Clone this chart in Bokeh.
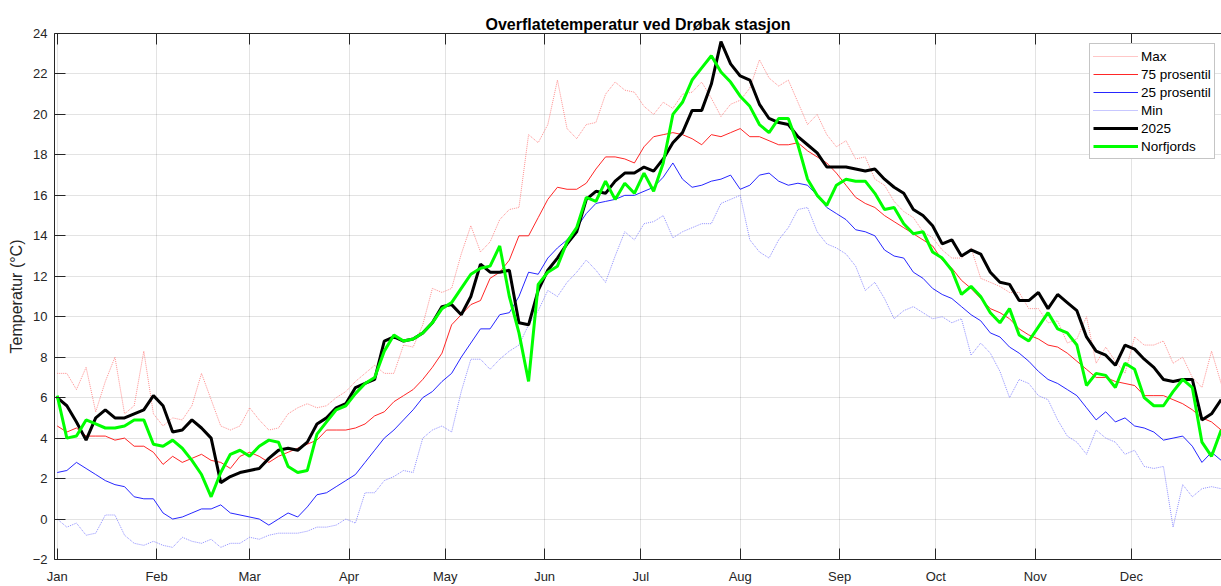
from bokeh.plotting import figure
from bokeh.models import FixedTicker, LinearAxis, Legend, LegendItem, Range1d
from bokeh.embed import file_html
from bokeh.resources import INLINE

# Day of year (leap-year axis, Jan 1 = 0), sampled every 3 days
day = list(range(0, 364, 3))

month_ticks = [0, 31, 60, 91, 121, 152, 182, 213, 244, 274, 305, 335]
month_labels = ["Jan", "Feb", "Mar", "Apr", "May", "Jun", "Jul", "Aug", "Sep", "Oct", "Nov", "Dec"]
y_ticks = [-2, 0, 2, 4, 6, 8, 10, 12, 14, 16, 18, 20, 22, 24]

t_max = [7.2, 7.2, 6.4, 7.5, 5.3, 6.8, 8.0, 5.2, 5.6, 8.3, 5.2, 4.6, 5.0, 4.9, 5.6, 7.2,
         5.9, 4.6, 4.4, 4.6, 5.5, 4.9, 4.4, 4.5, 5.2, 5.5, 5.7, 5.5, 5.6, 6.0, 6.3, 6.8,
         7.2, 7.6, 7.2, 7.2, 8.6, 8.5, 9.6, 11.4, 11.2, 11.4, 13.1, 14.5, 13.2, 13.7, 14.8, 15.3,
         15.4, 19.0, 18.6, 19.5, 21.7, 19.3, 18.8, 19.5, 19.6, 21.0, 21.6, 21.2, 21.1, 20.4, 20.0, 20.6,
         20.3, 21.0, 21.1, 21.6, 20.8, 19.9, 20.5, 20.7, 21.3, 22.7, 21.8, 21.4, 21.7, 20.6, 19.5, 20.0,
         19.0, 18.4, 18.7, 17.8, 17.9, 16.8, 16.5, 15.7, 15.2, 14.9, 14.2, 13.9, 13.3, 12.9, 12.9, 13.4,
         11.9, 11.7, 11.5, 11.2, 11.2, 10.4, 10.4, 9.7, 9.8, 8.7, 8.9, 10.0, 7.7, 8.5, 7.8, 7.2,
         9.0, 8.6, 8.6, 8.8, 7.7, 8.0, 7.0, 6.5, 8.3, 6.7]

t_p75 = [4.6, 4.3, 4.5, 4.1, 4.1, 4.1, 3.9, 4.0, 3.6, 3.6, 3.3, 2.7, 3.1, 2.8, 3.0, 3.2,
         2.9, 2.8, 2.5, 3.1, 3.3, 3.1, 2.8, 3.1, 3.3, 3.5, 3.7, 3.9, 4.4, 4.4, 4.4, 4.5,
         4.7, 5.1, 5.3, 5.8, 6.1, 6.4, 6.9, 7.5, 8.2, 9.6, 10.1, 10.6, 10.8, 11.9, 12.2, 12.8,
         14.0, 14.0, 14.9, 15.8, 16.4, 16.3, 16.3, 16.6, 17.3, 17.9, 17.9, 17.8, 17.6, 18.4, 18.9, 19.0,
         19.1, 19.0, 18.8, 18.5, 19.0, 18.9, 19.1, 19.3, 18.9, 18.9, 18.7, 18.5, 18.5, 18.6, 18.2, 17.9,
         17.6, 17.1, 16.5, 15.9, 15.6, 15.4, 15.0, 14.7, 14.4, 14.1, 13.8, 13.5, 12.8, 12.4, 11.8, 11.4,
         10.9, 10.4, 10.2, 9.9, 9.4, 9.1, 8.9, 8.6, 8.5, 8.2, 7.8, 7.4, 7.0, 7.0, 6.8, 6.7,
         6.6, 6.1, 6.1, 6.1, 5.9, 5.7, 5.4, 5.0, 4.8, 4.4]

t_p25 = [2.3, 2.4, 2.8, 2.5, 2.2, 1.9, 1.7, 1.6, 1.1, 1.0, 1.0, 0.3, 0.0, 0.1, 0.3, 0.5,
         0.5, 0.7, 0.3, 0.2, 0.1, 0.0, -0.3, 0.0, 0.3, 0.1, 0.6, 1.2, 1.3, 1.6, 1.9, 2.2,
         2.8, 3.4, 4.0, 4.4, 4.9, 5.4, 6.0, 6.3, 6.8, 7.2, 8.0, 8.7, 9.4, 9.4, 10.1, 10.2,
         11.0, 12.2, 12.1, 12.9, 13.4, 13.8, 14.4, 15.1, 15.6, 15.7, 15.8, 16.0, 16.0, 16.2, 16.4, 16.9,
         17.6, 16.8, 16.4, 16.5, 16.7, 16.8, 17.0, 16.3, 16.5, 17.0, 17.1, 16.7, 16.5, 16.6, 16.5, 16.0,
         15.4, 15.1, 14.8, 14.3, 14.2, 14.0, 13.3, 13.0, 12.9, 12.2, 11.9, 11.4, 11.1, 10.9, 10.5, 10.1,
         9.8, 9.2, 9.0, 8.5, 8.2, 7.8, 7.3, 6.9, 6.7, 6.4, 6.1, 5.5, 4.9, 5.3, 4.8, 5.0,
         4.6, 4.5, 4.3, 3.9, 4.0, 4.1, 3.6, 2.8, 3.3, 2.9]

t_min = [0.0, -0.4, -0.2, -0.8, -0.7, 0.2, 0.2, -0.8, -1.2, -1.3, -1.1, -1.3, -1.4, -0.9, -1.1, -1.2,
         -1.0, -1.4, -1.2, -1.2, -0.9, -1.0, -0.8, -0.7, -0.7, -0.7, -0.6, -0.4, -0.4, -0.3, 0.0, -0.2,
         1.3, 1.3, 1.9, 2.1, 2.4, 2.3, 4.0, 4.4, 4.6, 4.3, 6.3, 7.9, 7.9, 7.4, 7.9, 8.3,
         8.6, 9.6, 10.3, 11.3, 11.0, 11.7, 12.2, 12.8, 12.3, 11.7, 13.0, 14.2, 13.8, 14.6, 14.7, 15.0,
         13.9, 14.2, 14.4, 14.6, 14.6, 15.6, 15.8, 16.0, 13.8, 13.2, 12.9, 13.8, 14.4, 15.3, 15.4, 14.2,
         13.6, 13.4, 13.1, 12.5, 11.3, 11.7, 10.9, 9.9, 10.3, 10.5, 10.2, 9.9, 10.0, 9.7, 9.9, 8.1,
         8.7, 8.2, 7.3, 6.0, 6.9, 6.7, 6.1, 5.9, 4.9, 4.1, 3.8, 3.2, 4.4, 4.0, 3.8, 3.2,
         3.4, 2.6, 2.5, 2.6, -0.4, 1.7, 1.1, 1.5, 1.6, 1.5]

t_2025 = [6.0, 5.6, 4.8, 3.9, 5.0, 5.4, 5.0, 5.0, 5.2, 5.4, 6.1, 5.6, 4.3, 4.4, 4.9, 4.5,
          4.0, 1.8, 2.1, 2.3, 2.4, 2.5, 3.0, 3.4, 3.5, 3.4, 3.8, 4.7, 5.0, 5.5, 5.7, 6.5,
          6.7, 6.9, 8.8, 9.0, 8.8, 8.9, 9.2, 9.7, 10.5, 10.6, 10.1, 11.0, 12.6, 12.2, 12.2, 12.3,
          9.7, 9.6, 11.3, 12.3, 12.9, 13.6, 14.2, 15.8, 16.2, 16.1, 16.7, 17.1, 17.1, 17.4, 17.2, 17.8,
          18.6, 19.1, 20.2, 20.2, 21.5, 23.6, 22.5, 21.9, 21.7, 20.5, 19.8, 19.6, 19.5, 18.9, 18.5, 18.1,
          17.4, 17.4, 17.4, 17.3, 17.2, 17.3, 16.8, 16.4, 16.1, 15.3, 15.0, 14.5, 13.6, 13.8, 13.0, 13.3,
          13.1, 12.2, 11.7, 11.6, 10.8, 10.8, 11.2, 10.4, 11.1, 10.7, 10.3, 9.0, 8.3, 8.1, 7.6, 8.6,
          8.4, 7.9, 7.5, 6.9, 6.8, 6.9, 6.9, 4.9, 5.2, 5.9]

t_norfjords = [6.1, 4.0, 4.1, 4.9, 4.7, 4.5, 4.5, 4.6, 4.9, 4.9, 3.7, 3.6, 3.9, 3.5, 2.9, 2.2,
               1.1, 2.3, 3.2, 3.4, 3.1, 3.6, 3.9, 3.8, 2.6, 2.3, 2.4, 4.2, 4.8, 5.4, 5.6, 6.2,
               6.7, 7.0, 8.3, 9.1, 8.8, 8.9, 9.2, 9.7, 10.4, 10.7, 11.4, 12.1, 12.4, 12.5, 13.5, 11.0,
               9.2, 6.8, 11.6, 12.2, 12.5, 13.7, 14.4, 15.9, 15.7, 16.7, 15.8, 16.6, 16.1, 17.1, 16.2, 17.6,
               20.0, 20.6, 21.7, 22.3, 22.9, 22.1, 21.6, 20.9, 20.4, 19.5, 19.1, 19.8, 19.8, 18.5, 16.8, 16.0,
               15.5, 16.5, 16.8, 16.7, 16.7, 16.1, 15.3, 15.4, 14.6, 14.1, 14.2, 13.2, 12.9, 12.3, 11.1, 11.5,
               11.0, 10.2, 9.7, 10.4, 9.1, 8.8, 9.5, 10.2, 9.4, 9.2, 8.6, 6.6, 7.2, 7.1, 6.5, 7.7,
               7.4, 6.0, 5.6, 5.6, 6.3, 6.9, 6.5, 3.8, 3.1, 4.4]

FONT = "Liberation Sans"
TXT = "#262626"

p = figure(width=1221, height=586, output_backend="svg", toolbar_location=None,
           x_range=Range1d(-0.85, 363.1), y_range=Range1d(-2, 24),
           min_border_left=54, min_border_right=0, min_border_top=33, min_border_bottom=26,
           background_fill_color="white", border_fill_color="white")

p.title.text = "Overflatetemperatur ved Drøbak stasjon"
p.title.align = "center"
p.title.text_font = FONT
p.title.text_font_size = "16px"
p.title.text_font_style = "bold"
p.title.text_color = "black"
p.title.standoff = 1
p.title.offset = 0

p.outline_line_color = None

# x axis
xa = p.xaxis[0]
xa.ticker = FixedTicker(ticks=month_ticks)
xa.major_label_overrides = {t: l for t, l in zip(month_ticks, month_labels)}
ya = p.yaxis[0]
ya.ticker = FixedTicker(ticks=y_ticks)
ya.axis_label = "Temperatur (°C)"
ya.axis_label_text_font = FONT
ya.axis_label_text_font_size = "16px"
ya.axis_label_text_font_style = "normal"
ya.axis_label_text_color = TXT
ya.axis_label_standoff = 5
for ax in (xa, ya):
    ax.major_label_text_font = FONT
    ax.major_label_text_font_size = "13px"
    ax.major_label_text_color = TXT
    ax.axis_line_color = TXT
    ax.major_tick_line_color = TXT
    ax.major_tick_in = 11
    ax.major_tick_out = 0
    ax.minor_tick_line_color = None
xa.major_label_standoff = 9
ya.major_label_standoff = 7

top = LinearAxis(ticker=FixedTicker(ticks=month_ticks), major_label_text_font_size="0px",
                 major_label_standoff=0, major_tick_in=11, major_tick_out=0,
                 minor_tick_line_color=None, axis_line_color=TXT, major_tick_line_color=TXT)
top.major_label_overrides = {t: "" for t in month_ticks}
p.add_layout(top, "above")

p.xgrid.ticker = FixedTicker(ticks=month_ticks)
p.ygrid.ticker = FixedTicker(ticks=y_ticks)
for g in (p.xgrid[0], p.ygrid[0]):
    g.grid_line_color = "#262626"
    g.grid_line_alpha = 0.13
    g.grid_line_width = 1

r_max = p.line(day, t_max, line_color="#ff6a6a", line_alpha=0.75, line_width=1, line_dash="1 1")
r_75 = p.line(day, t_p75, line_color="#ff0000", line_alpha=0.85, line_width=1)
r_25 = p.line(day, t_p25, line_color="#0000ff", line_alpha=0.85, line_width=1)
r_min = p.line(day, t_min, line_color="#6a6aff", line_alpha=0.75, line_width=1, line_dash="1 1")
r_2025 = p.line(day, t_2025, line_color="black", line_width=3)
r_nor = p.line(day, t_norfjords, line_color="#00ff00", line_width=3)

legend = Legend(items=[
    LegendItem(label="Max", renderers=[r_max]),
    LegendItem(label="75 prosentil", renderers=[r_75]),
    LegendItem(label="25 prosentil", renderers=[r_25]),
    LegendItem(label="Min", renderers=[r_min]),
    LegendItem(label="2025", renderers=[r_2025]),
    LegendItem(label="Norfjords", renderers=[r_nor]),
], location=(1035, 400))
legend.label_text_font = FONT
legend.label_text_font_size = "13.5px"
legend.label_text_color = "black"
legend.glyph_width = 45
legend.glyph_height = 18
legend.label_height = 18
legend.label_standoff = 3
legend.spacing = 0
legend.padding = 3
legend.margin = 0
legend.border_line_color = "#8c8c8c"
legend.border_line_width = 1
legend.background_fill_color = "white"
legend.background_fill_alpha = 1
p.add_layout(legend)

open("out.html", "w").write(file_html(p, INLINE))
